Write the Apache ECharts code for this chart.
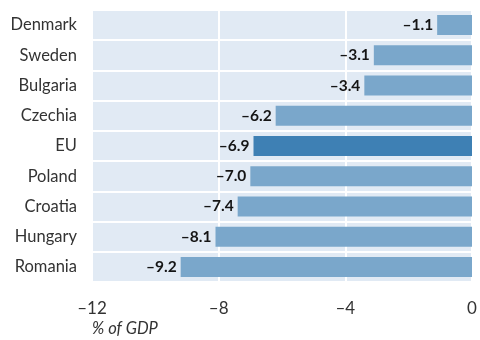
<!DOCTYPE html>
<html>
<head>
<meta charset="utf-8">
<script src="https://cdn.jsdelivr.net/npm/echarts@6/dist/echarts.min.js"></script>
<style>
  html, body { margin: 0; padding: 0; background: #fff; }
  #chart { width: 480px; height: 340px; }
</style>
</head>
<body>
<div id="chart"></div>
<script>
// Government balance, % of GDP
const countries = ['Denmark', 'Sweden', 'Bulgaria', 'Czechia', 'EU', 'Poland', 'Croatia', 'Hungary', 'Romania'];
const balance = [-1.1, -3.1, -3.4, -6.2, -6.9, -7.0, -7.4, -8.1, -9.2];
const xTicks = [-12, -8, -4, 0];
const highlight = 'EU';

const dash = (v, d) => (v < 0 ? '\u2013' : '') + Math.abs(v).toFixed(d);
const FONT = 'Lato, "Open Sans", sans-serif';

const chart = echarts.init(document.getElementById('chart'), null, { renderer: 'canvas' });
chart.setOption({
  animation: false,
  grid: {
    left: 92, right: 8, top: 10, bottom: 58,
    show: true, backgroundColor: '#e1eaf4', borderWidth: 0
  },
  xAxis: {
    type: 'value',
    min: xTicks[0], max: xTicks[xTicks.length - 1], interval: 4,
    axisLine: { show: false }, axisTick: { show: false },
    splitLine: { show: true, lineStyle: { color: '#ffffff', width: 2 } },
    axisLabel: {
      margin: 18, color: '#333', fontFamily: FONT, fontSize: 17,
      formatter: v => dash(v, 0)
    }
  },
  yAxis: {
    type: 'category', data: countries, inverse: true,
    axisLine: { show: false }, axisTick: { show: false },
    splitLine: { show: true, interval: 0, lineStyle: { color: '#ffffff', width: 2 } },
    axisLabel: { margin: 15, color: '#333', fontFamily: FONT, fontSize: 16.5 }
  },
  series: [{
    type: 'bar',
    barWidth: 20,
    data: balance.map((v, i) => ({
      value: v,
      itemStyle: { color: countries[i] === highlight ? '#3e80b4' : '#7aa7cb' }
    })),
    label: {
      show: true, position: 'left', distance: 4,
      color: '#151515', fontFamily: FONT, fontSize: 15.5, fontWeight: 'bold',
      formatter: p => dash(p.value, 1)
    }
  }],
  graphic: [{
    type: 'text', left: 92, top: 320,
    style: { text: '% of GDP', fill: '#333', font: 'italic 16.5px ' + FONT }
  }]
});
</script>
</body>
</html>
